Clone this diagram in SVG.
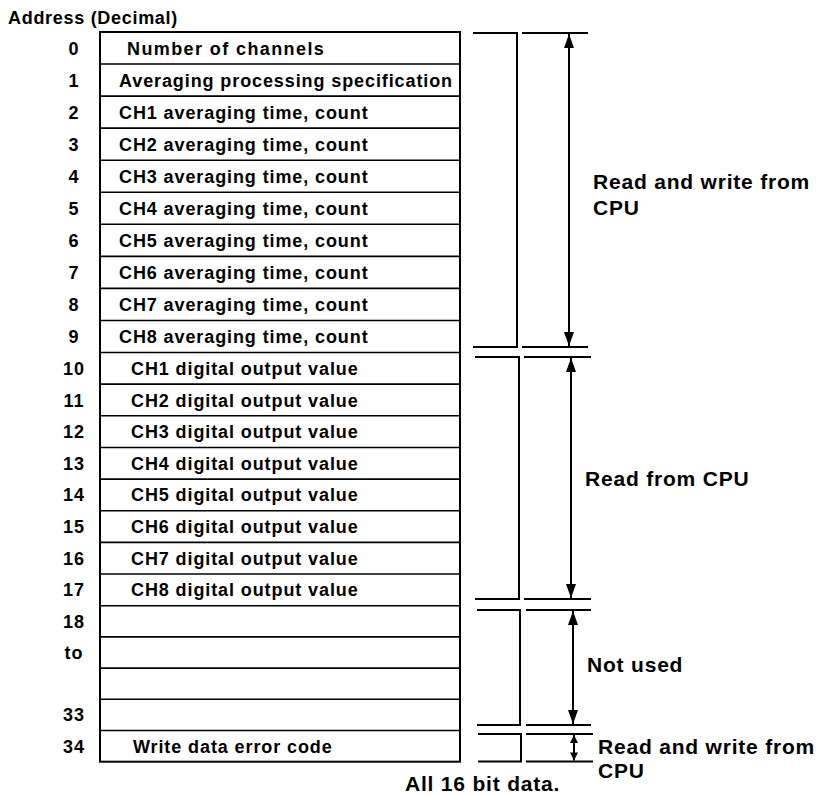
<svg xmlns="http://www.w3.org/2000/svg" width="820" height="796" viewBox="0 0 820 796">
<style>
.t{font-family:"Liberation Sans",Arial,sans-serif;font-weight:bold;fill:#000}
.cell{font-size:18px;letter-spacing:0.9px}
.addr{font-size:18px;letter-spacing:1px;text-anchor:middle}
.lbl{font-size:21px;letter-spacing:0.8px}
.ln{stroke:#000;stroke-width:2;fill:none}
.div{stroke:#000;stroke-width:1.6}
</style>
<defs>
<marker id="ah" viewBox="0 0 14 10" refX="14" refY="5" markerWidth="14" markerHeight="10" markerUnits="userSpaceOnUse" orient="auto-start-reverse">
<path d="M0,0 L14,5 L0,10 z" fill="#000"/>
</marker>
<marker id="ahs" viewBox="0 0 10 10" refX="10" refY="5" markerWidth="9" markerHeight="8" markerUnits="userSpaceOnUse" orient="auto-start-reverse">
<path d="M0,0 L10,5 L0,10 z" fill="#000"/>
</marker>
</defs>
<rect width="820" height="796" fill="#fff"/>
<text class="t" x="8" y="24" font-size="18" letter-spacing="0.7">Address (Decimal)</text>

<g id="table">
<rect class="ln" x="100" y="32" width="360" height="729.7"/>
<g class="div">
<line x1="100" y1="64.05" x2="460" y2="64.05"/>
<line x1="100" y1="96.1" x2="460" y2="96.1"/>
<line x1="100" y1="128.15" x2="460" y2="128.15"/>
<line x1="100" y1="160.2" x2="460" y2="160.2"/>
<line x1="100" y1="192.25" x2="460" y2="192.25"/>
<line x1="100" y1="224.3" x2="460" y2="224.3"/>
<line x1="100" y1="256.35" x2="460" y2="256.35"/>
<line x1="100" y1="288.4" x2="460" y2="288.4"/>
<line x1="100" y1="320.45" x2="460" y2="320.45"/>
<line x1="100" y1="352.5" x2="460" y2="352.5"/>
<line x1="100" y1="384.15" x2="460" y2="384.15"/>
<line x1="100" y1="415.8" x2="460" y2="415.8"/>
<line x1="100" y1="447.45" x2="460" y2="447.45"/>
<line x1="100" y1="479.1" x2="460" y2="479.1"/>
<line x1="100" y1="510.75" x2="460" y2="510.75"/>
<line x1="100" y1="542.4" x2="460" y2="542.4"/>
<line x1="100" y1="574.05" x2="460" y2="574.05"/>
<line x1="100" y1="605.7" x2="460" y2="605.7"/>
<line x1="100" y1="636.9" x2="460" y2="636.9"/>
<line x1="100" y1="668.1" x2="460" y2="668.1"/>
<line x1="100" y1="699.3" x2="460" y2="699.3"/>
<line x1="100" y1="730.5" x2="460" y2="730.5"/>
</g>
</g>

<g id="addresses" class="t addr">
<text x="74" y="54.5">0</text>
<text x="74" y="86.5">1</text>
<text x="74" y="118.6">2</text>
<text x="74" y="150.6">3</text>
<text x="74" y="182.7">4</text>
<text x="74" y="214.7">5</text>
<text x="74" y="246.8">6</text>
<text x="74" y="278.8">7</text>
<text x="74" y="310.9">8</text>
<text x="74" y="342.9">9</text>
<text x="74" y="374.8">10</text>
<text x="74" y="406.5">11</text>
<text x="74" y="438.1">12</text>
<text x="74" y="469.8">13</text>
<text x="74" y="501.4">14</text>
<text x="74" y="533.1">15</text>
<text x="74" y="564.7">16</text>
<text x="74" y="596.4">17</text>
<text x="74" y="627.8">18</text>
<text x="74" y="659">to</text>
<text x="74" y="721.4">33</text>
<text x="74" y="752.6">34</text>
</g>

<g id="cells" class="t cell">
<text x="127" y="54.5" letter-spacing="1.4">Number of channels</text>
<text x="119" y="86.5">Averaging processing specification</text>
<text x="119" y="118.6">CH1 averaging time, count</text>
<text x="119" y="150.6">CH2 averaging time, count</text>
<text x="119" y="182.7">CH3 averaging time, count</text>
<text x="119" y="214.7">CH4 averaging time, count</text>
<text x="119" y="246.8">CH5 averaging time, count</text>
<text x="119" y="278.8">CH6 averaging time, count</text>
<text x="119" y="310.9">CH7 averaging time, count</text>
<text x="119" y="342.9">CH8 averaging time, count</text>
<text x="131" y="374.8">CH1 digital output value</text>
<text x="131" y="406.5">CH2 digital output value</text>
<text x="131" y="438.1">CH3 digital output value</text>
<text x="131" y="469.8">CH4 digital output value</text>
<text x="131" y="501.4">CH5 digital output value</text>
<text x="131" y="533.1">CH6 digital output value</text>
<text x="131" y="564.7">CH7 digital output value</text>
<text x="131" y="596.4">CH8 digital output value</text>
<text x="133" y="752.6">Write data error code</text>
</g>

<g id="connectors" class="ln">
<path d="M473,33 H517 V347 H473"/>
<line x1="522" y1="33" x2="588" y2="33"/>
<line x1="522" y1="347" x2="588" y2="347"/>
<line x1="569" y1="34" x2="569" y2="346" marker-start="url(#ah)" marker-end="url(#ah)"/>

<path d="M475,357 H519 V599 H475"/>
<line x1="524" y1="357" x2="591" y2="357"/>
<line x1="524" y1="599" x2="591" y2="599"/>
<line x1="571" y1="358" x2="571" y2="598" marker-start="url(#ah)" marker-end="url(#ah)"/>

<path d="M477,610 H520 V725 H477"/>
<line x1="526" y1="610" x2="591" y2="610"/>
<line x1="526" y1="725" x2="591" y2="725"/>
<line x1="573" y1="611" x2="573" y2="724" marker-start="url(#ah)" marker-end="url(#ah)"/>

<path d="M478,734 H521 V761.5 H478"/>
<line x1="526" y1="734" x2="593" y2="734"/>
<line x1="526" y1="761.5" x2="593" y2="761.5"/>
<line x1="574" y1="735" x2="574" y2="760.5" marker-start="url(#ahs)" marker-end="url(#ahs)"/>
</g>

<g id="labels" class="t lbl">
<text x="593" y="189">Read and write from</text>
<text x="593" y="215">CPU</text>
<text x="585" y="486">Read from CPU</text>
<text x="587" y="672">Not used</text>
<text x="598" y="754">Read and write from</text>
<text x="598" y="778">CPU</text>
<text x="405" y="791">All 16 bit data.</text>
</g>
</svg>
